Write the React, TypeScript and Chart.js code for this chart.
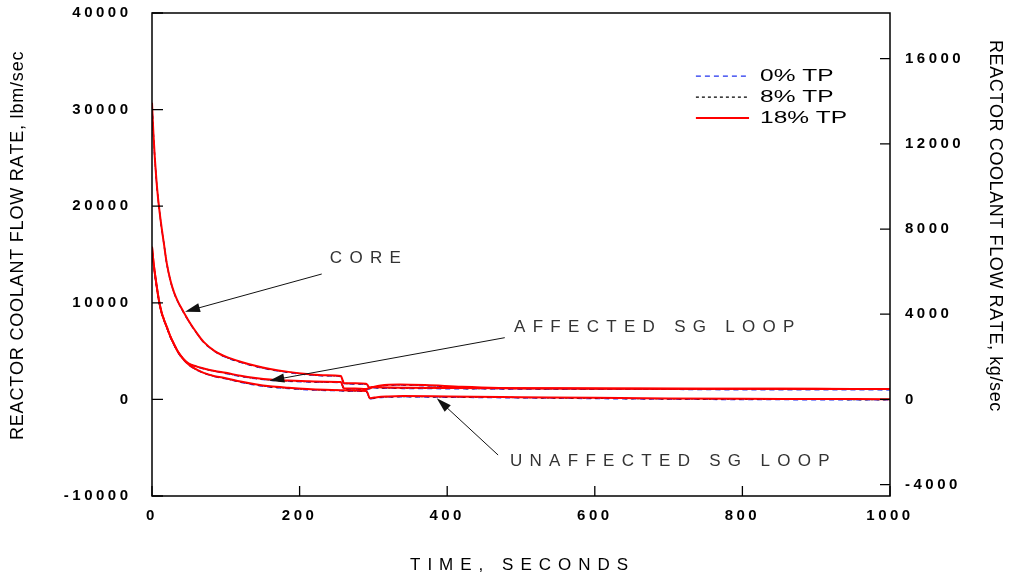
import React, { useEffect, useRef } from 'react';
import { Chart, registerables } from 'chart.js';

Chart.register(...registerables);

// Axis ticks
const TIME_TICKS = [0, 200, 400, 600, 800, 1000];
const LBM_TICKS = [-10000, 0, 10000, 20000, 30000, 40000];
const KG_TICKS = [-4000, 0, 4000, 8000, 12000, 16000];
const LBM_MIN = -10000;
const LBM_MAX = 40000;
const LBM_PER_KG = 2.20462;

// Core flow, lbm/sec
const CORE_T = [0, 1, 2, 4, 6, 8, 10, 13, 16, 20, 25, 30, 35, 42, 50, 60, 70, 85, 100, 120, 140, 160, 185, 210, 235, 256, 258, 260, 275, 290, 292, 295, 300, 310, 335, 370, 420, 470, 550, 650, 750, 850, 1000];
const CORE_0TP = [30500, 28900, 27300, 24700, 22600, 20900, 19500, 17700, 16150, 14050, 12250, 11000, 10100, 9100, 8050, 6900, 5900, 4970, 4350, 3820, 3400, 3070, 2780, 2560, 2430, 2350, 1980, 1630, 1590, 1540, 1430, 1080, 1200, 1380, 1470, 1410, 1230, 1120, 1080, 1050, 1030, 1020, 1010];
const CORE_8TP = [30600, 28950, 27350, 24750, 22650, 20950, 19550, 17750, 16180, 14080, 12280, 11030, 10130, 9130, 8080, 6930, 5930, 4990, 4390, 3865, 3445, 3115, 2815, 2595, 2465, 2385, 2015, 1665, 1625, 1575, 1465, 1120, 1245, 1415, 1505, 1445, 1265, 1155, 1115, 1085, 1065, 1055, 1045];
const CORE_18TP = [30700, 29000, 27400, 24800, 22700, 21000, 19600, 17800, 16200, 14100, 12300, 11050, 10150, 9150, 8100, 6950, 5950, 5000, 4420, 3900, 3480, 3150, 2850, 2630, 2500, 2420, 2050, 1700, 1660, 1610, 1500, 1160, 1280, 1450, 1540, 1480, 1300, 1190, 1150, 1120, 1100, 1090, 1080];

// Loop flows, lbm/sec
const LOOP_T = [0, 1, 2, 4, 6, 8, 10, 13, 16, 20, 25, 30, 35, 42, 50, 60, 70, 85, 100, 120, 140, 160, 185, 210, 235, 256, 258, 260, 275, 290, 292, 295, 298, 305, 320, 340, 400, 500, 600, 700, 800, 900, 1000];
const AFFECTED_0TP = [15650, 14850, 14050, 12850, 11800, 10800, 9900, 8920, 8220, 7420, 6420, 5620, 4880, 4200, 3660, 3380, 3160, 2910, 2670, 2370, 2140, 1970, 1870, 1800, 1760, 1720, 1400, 1070, 1040, 1000, 1020, 1150, 1200, 1170, 1145, 1130, 1100, 1070, 1050, 1030, 1020, 1010, 1000];
const AFFECTED_8TP = [15750, 14950, 14150, 12950, 11880, 10880, 9980, 8980, 8280, 7480, 6480, 5680, 4930, 4240, 3690, 3410, 3190, 2940, 2710, 2410, 2180, 2010, 1910, 1840, 1800, 1760, 1440, 1110, 1080, 1040, 1060, 1190, 1240, 1210, 1185, 1170, 1140, 1110, 1090, 1070, 1060, 1050, 1040];
const AFFECTED_18TP = [15800, 15000, 14200, 13000, 11900, 10900, 10000, 9000, 8300, 7500, 6500, 5700, 4950, 4250, 3700, 3420, 3200, 2950, 2750, 2450, 2220, 2050, 1950, 1880, 1840, 1800, 1480, 1150, 1120, 1080, 1100, 1230, 1280, 1250, 1225, 1210, 1180, 1150, 1130, 1110, 1100, 1090, 1080];
const UNAFFECTED_0TP = [15650, 14850, 14050, 12850, 11800, 10800, 9900, 8920, 8220, 7420, 6420, 5620, 4880, 4150, 3560, 3060, 2710, 2360, 2120, 1770, 1480, 1270, 1120, 1000, 920, 880, 870, 860, 840, 800, 620, 40, 70, 160, 225, 260, 220, 150, 80, 20, -20, -40, -60];
const UNAFFECTED_8TP = [15750, 14950, 14150, 12950, 11880, 10880, 9980, 8980, 8280, 7480, 6480, 5680, 4930, 4190, 3590, 3090, 2740, 2390, 2160, 1810, 1520, 1310, 1160, 1040, 960, 920, 910, 900, 880, 840, 660, 90, 110, 200, 265, 300, 260, 190, 120, 60, 20, 0, -20];
const UNAFFECTED_18TP = [15800, 15000, 14200, 13000, 11900, 10900, 10000, 9000, 8300, 7500, 6500, 5700, 4950, 4200, 3600, 3100, 2750, 2400, 2200, 1850, 1560, 1350, 1200, 1080, 1000, 960, 950, 940, 920, 880, 700, 130, 140, 230, 300, 340, 300, 230, 160, 100, 60, 40, 20];

const CASES = ['0% TP', '8% TP', '18% TP'];
const CASE_STYLE: Record<string, { color: string; dash: number[]; width: number; order: number }> = {
  '0% TP': { color: '#2233ee', dash: [5, 4], width: 1.3, order: 2 },
  '8% TP': { color: '#000000', dash: [3, 3], width: 1.3, order: 1 },
  '18% TP': { color: '#ff0000', dash: [], width: 2, order: 0 },
};

const FONT = '"Liberation Sans", Arial, Helvetica, sans-serif';

const toPoints = (t: number[], v: number[]) => t.map((x, i) => ({ x, y: v[i] }));

function makeDataset(name: string, caseName: string, t: number[], v: number[]) {
  const s = CASE_STYLE[caseName];
  return {
    label: `${name} ${caseName}`,
    data: toPoints(t, v),
    borderColor: s.color,
    borderWidth: s.width,
    borderDash: s.dash,
    pointRadius: 0,
    fill: false,
    cubicInterpolationMode: 'monotone' as const,
    order: s.order,
    xAxisID: 'x',
    yAxisID: 'y',
  };
}

function drawSpaced(ctx: CanvasRenderingContext2D, text: string, x: number, y: number, spacing: number) {
  let cx = x;
  for (const ch of text) {
    ctx.fillText(ch, cx, y);
    cx += ctx.measureText(ch).width + spacing;
  }
}

function drawArrow(ctx: CanvasRenderingContext2D, x1: number, y1: number, x2: number, y2: number) {
  const ang = Math.atan2(y2 - y1, x2 - x1);
  const L = 15;
  const W = 4.5;
  const c = Math.cos(ang);
  const s = Math.sin(ang);
  ctx.beginPath();
  ctx.moveTo(x1, y1);
  ctx.lineTo(x2 - L * 0.7 * c, y2 - L * 0.7 * s);
  ctx.stroke();
  ctx.beginPath();
  ctx.moveTo(x2, y2);
  ctx.lineTo(x2 - L * c + W * s, y2 - L * s - W * c);
  ctx.lineTo(x2 - L * c - W * s, y2 - L * s + W * c);
  ctx.closePath();
  ctx.fill();
}

// Labels with leader arrows: [text, text t, text lbm, tail t, tail lbm, tip t, tip lbm]
const CALLOUTS: [string, number, number, number, number, number, number][] = [
  ['CORE', 241, 14640, 230, 12980, 44.7, 9080],
  ['AFFECTED SG LOOP', 490.5, 7500, 478, 6390, 159, 1940],
  ['UNAFFECTED SG LOOP', 485, -6380, 469, -5760, 385.8, 115],
];

const noPad = (s: any) => {
  s.paddingTop = 0;
  s.paddingBottom = 0;
};

const overlayPlugin = {
  id: 'overlay',
  beforeDraw(chart: any) {
    (chart.ctx as any).letterSpacing = '3.5px';
  },
  afterDraw(chart: any) {
    const ctx: CanvasRenderingContext2D = chart.ctx;
    const a = chart.chartArea;
    const sx = chart.scales.x;
    const sy = chart.scales.y;
    const sy2 = chart.scales.y2;
    ctx.save();
    (ctx as any).letterSpacing = '0px';

    // inward tick marks
    ctx.strokeStyle = '#000';
    ctx.lineWidth = 1.3;
    ctx.beginPath();
    for (const v of LBM_TICKS) {
      const y = sy.getPixelForValue(v);
      ctx.moveTo(a.left, y);
      ctx.lineTo(a.left + 11, y);
    }
    for (const v of KG_TICKS) {
      const y = sy2.getPixelForValue(v);
      ctx.moveTo(a.right, y);
      ctx.lineTo(a.right - 10, y);
    }
    for (const v of TIME_TICKS) {
      const x = sx.getPixelForValue(v);
      ctx.moveTo(x, a.bottom);
      ctx.lineTo(x, a.bottom - 10);
    }
    ctx.stroke();

    // frame
    ctx.lineWidth = 1.5;
    ctx.strokeRect(a.left, a.top, a.right - a.left, a.bottom - a.top);

    // legend (wide lettering)
    ctx.font = `16px ${FONT}`;
    ctx.textBaseline = 'middle';
    ctx.textAlign = 'left';
    const lx0 = sx.getPixelForValue(737);
    const lx1 = sx.getPixelForValue(809);
    const rowY = [33460, 31290, 29120];
    CASES.forEach((c, i) => {
      const st = CASE_STYLE[c];
      const y = sy.getPixelForValue(rowY[i]);
      ctx.save();
      ctx.strokeStyle = st.color;
      ctx.lineWidth = st.width;
      ctx.setLineDash(st.dash);
      ctx.beginPath();
      ctx.moveTo(lx0, y);
      ctx.lineTo(lx1, y);
      ctx.stroke();
      ctx.restore();
      ctx.save();
      ctx.fillStyle = '#000';
      ctx.translate(lx1 + 11, y + 0.5);
      ctx.scale(1.53, 1);
      ctx.fillText(c, 0, 0);
      ctx.restore();
    });

    // callouts
    ctx.font = `17px ${FONT}`;
    ctx.strokeStyle = '#111';
    ctx.lineWidth = 1;
    for (const [text, tt, tv, t1, v1, t2, v2] of CALLOUTS) {
      ctx.fillStyle = '#333';
      drawSpaced(ctx, text, sx.getPixelForValue(tt), sy.getPixelForValue(tv), 7.3);
      ctx.fillStyle = '#111';
      drawArrow(ctx, sx.getPixelForValue(t1), sy.getPixelForValue(v1), sx.getPixelForValue(t2), sy.getPixelForValue(v2));
    }

    // axis titles
    ctx.fillStyle = '#000';
    ctx.font = `17px ${FONT}`;
    drawSpaced(ctx, 'TIME, SECONDS', 410, 565, 7.0);

    ctx.font = `18px ${FONT}`;
    ctx.save();
    ctx.translate(18, 440);
    ctx.rotate(-Math.PI / 2);
    drawSpaced(ctx, 'REACTOR COOLANT FLOW RATE, lbm/sec', 0, 0, 0.8);
    ctx.restore();

    ctx.save();
    ctx.translate(995, 40);
    ctx.rotate(Math.PI / 2);
    drawSpaced(ctx, 'REACTOR COOLANT FLOW RATE, kg/sec', 0, 0, 0.6);
    ctx.restore();

    ctx.restore();
  },
};

const tickFont = { family: FONT, size: 15, weight: 'bold' as const };

export default function App() {
  const ref = useRef<HTMLCanvasElement | null>(null);

  useEffect(() => {
    if (!ref.current) return;
    const datasets = [
      makeDataset('Core', '0% TP', CORE_T, CORE_0TP),
      makeDataset('Core', '8% TP', CORE_T, CORE_8TP),
      makeDataset('Core', '18% TP', CORE_T, CORE_18TP),
      makeDataset('Affected SG loop', '0% TP', LOOP_T, AFFECTED_0TP),
      makeDataset('Affected SG loop', '8% TP', LOOP_T, AFFECTED_8TP),
      makeDataset('Affected SG loop', '18% TP', LOOP_T, AFFECTED_18TP),
      makeDataset('Unaffected SG loop', '0% TP', LOOP_T, UNAFFECTED_0TP),
      makeDataset('Unaffected SG loop', '8% TP', LOOP_T, UNAFFECTED_8TP),
      makeDataset('Unaffected SG loop', '18% TP', LOOP_T, UNAFFECTED_18TP),
    ];
    const chart = new Chart(ref.current, {
      type: 'line',
      data: { datasets },
      options: {
        animation: false,
        responsive: false,
        maintainAspectRatio: false,
        devicePixelRatio: 1,
        layout: { padding: { top: 13, left: 0, right: 0, bottom: 0 } },
        plugins: { legend: { display: false }, tooltip: { enabled: false } },
        scales: {
          x: {
            type: 'linear',
            position: 'bottom',
            min: 0,
            max: 1000,
            afterBuildTicks: (s: any) => { s.ticks = TIME_TICKS.map((value) => ({ value })); },
            afterFit: (s: any) => { s.height = 85; s.paddingLeft = 0; s.paddingRight = 0; },
            grid: { display: false, drawTicks: false },
            border: { display: false },
            ticks: { padding: 11, color: '#000', font: tickFont, autoSkip: false, maxRotation: 0, callback: (v: any) => String(v) },
          },
          y: {
            type: 'linear',
            position: 'left',
            min: LBM_MIN,
            max: LBM_MAX,
            afterBuildTicks: (s: any) => { s.ticks = LBM_TICKS.map((value) => ({ value })); },
            afterFit: (s: any) => { s.width = 152; noPad(s); },
            grid: { display: false, drawTicks: false },
            border: { display: false },
            ticks: { padding: 20.5, color: '#000', font: tickFont, autoSkip: false, callback: (v: any) => String(v) },
          },
          y2: {
            type: 'linear',
            position: 'right',
            display: true,
            min: LBM_MIN / LBM_PER_KG,
            max: LBM_MAX / LBM_PER_KG,
            afterBuildTicks: (s: any) => { s.ticks = KG_TICKS.map((value) => ({ value })); },
            afterFit: (s: any) => { s.width = 120; noPad(s); },
            grid: { display: false, drawTicks: false },
            border: { display: false },
            ticks: { padding: 15, color: '#000', font: tickFont, autoSkip: false, callback: (v: any) => String(v) },
          },
        },
      },
      plugins: [overlayPlugin],
    } as any);
    return () => chart.destroy();
  }, []);

  return (
    <div style={{ position: 'fixed', left: 0, top: 0, width: 1010, height: 581, background: '#fff' }}>
      <canvas ref={ref} width={1010} height={581} />
    </div>
  );
}
